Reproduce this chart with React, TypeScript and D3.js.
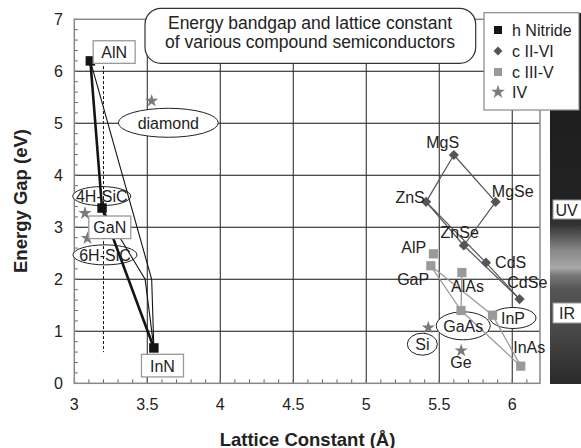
import React from "react";
import * as d3 from "d3";

// ---------- data ----------
const nitrideNames = ["AlN", "GaN", "InN"];
const nitrideLattice = [3.11, 3.19, 3.545];
const nitrideGap = [6.2, 3.37, 0.68];
// bowing polylines (lattice, gap)
const bowAlNInN: [number, number][] = [[3.11, 6.2], [3.53, 2.0], [3.545, 0.68]];
const bowGaNInN: [number, number][] = [[3.19, 3.37], [3.485, 2.0], [3.545, 0.68]];
const dashedLattice = 3.2;
const dashedRange = [6.1, 0.6];

const iiviNames = ["MgS", "ZnS", "MgSe", "ZnSe", "CdS", "CdSe"];
const iiviLattice = [5.6, 5.41, 5.886, 5.668, 5.82, 6.05];
const iiviGap = [4.39, 3.49, 3.49, 2.65, 2.32, 1.62];
const iiviLinks: [string, string][] = [
  ["MgS", "ZnS"], ["MgS", "MgSe"], ["MgSe", "ZnSe"], ["ZnS", "ZnSe"],
  ["ZnSe", "CdSe"], ["ZnS", "CdS"], ["CdS", "CdSe"],
];

const iiivNames = ["AlP", "GaP", "AlAs", "GaAs", "InP", "InAs"];
const iiivLattice = [5.46, 5.442, 5.655, 5.649, 5.865, 6.058];
const iiivGap = [2.49, 2.26, 2.13, 1.4, 1.31, 0.33];
const iiivLinks: [string, string][] = [
  ["GaP", "GaAs"], ["GaP", "InP"], ["AlAs", "GaAs"], ["GaAs", "InAs"], ["InP", "InAs"],
];

const ivNames = ["diamond", "4H-SiC", "6H-SiC", "Si", "Ge"];
const ivLattice = [3.53, 3.073, 3.09, 5.425, 5.65];
const ivGap = [5.43, 3.27, 2.79, 1.07, 0.63];

const xTicks = [3, 3.5, 4, 4.5, 5, 5.5, 6];
const yTicks = [0, 1, 2, 3, 4, 5, 6, 7];
const legendLabels = ["h Nitride", "c II-VI", "c III-V", "IV"];
const titleLines = ["Energy bandgap and lattice constant", "of various compound semiconductors"];

// annotations
const boxLabels: [string, number, number][] = [
  ["AlN", 3.273, 6.37], ["GaN", 3.243, 3.0], ["InN", 3.604, 0.34],
];
const ellipseLabels: [string, number, number, number, number][] = [
  ["4H-SiC", 3.188, 3.6, 29, 9.5],
  ["6H-SiC", 3.21, 2.47, 32, 10],
  ["diamond", 3.644, 5.01, 50, 14.5],
  ["GaAs", 5.664, 1.106, 27, 14],
  ["InP", 6.005, 1.256, 23, 10.5],
  ["Si", 5.384, 0.752, 15, 11],
];
const textLabels: [string, number, number][] = [
  ["MgS", 5.523, 4.525], ["ZnS", 5.3, 3.468], ["MgSe", 6.003, 3.588],
  ["ZnSe", 5.64, 2.794], ["CdS", 5.989, 2.217], ["CdSe", 6.103, 1.833],
  ["AlP", 5.325, 2.506], ["GaP", 5.321, 1.89], ["AlAs", 5.693, 1.762],
  ["Ge", 5.649, 0.294], ["InAs", 6.116, 0.577],
];

// spectrum strip grey stops (energy eV, grey)
const stripStops: [number, string][] = [
  [7.1, "#1a1a1a"], [3.5, "#222"], [3.05, "#333"], [2.75, "#666"],
  [2.55, "#8a8a8a"], [2.35, "#9a9a9a"], [2.22, "#aaa"], [2.08, "#777"],
  [1.8, "#555"], [1.0, "#484848"], [0, "#2a2a2a"],
];

const FONT = "'Liberation Sans', Arial, Helvetica, sans-serif";
const LF = 16;

export default function App() {
  const W = 581, H = 448;
  const x = d3.scaleLinear().domain([3, 6.19]).range([74.3, 540]);
  const y = d3.scaleLinear().domain([0, 7]).range([383.3, 19.3]);
  const [x0, x1] = x.range();
  const [yb, yt] = y.range();

  const line = d3.line<[number, number]>().x((d) => x(d[0])).y((d) => y(d[1]));
  const sq = (s: number) => d3.symbol(d3.symbolSquare, s)() as string;
  const star = (s: number) => d3.symbol(d3.symbolStar, s)() as string;

  const iiviIdx = (n: string) => iiviNames.indexOf(n);
  const iiivIdx = (n: string) => iiivNames.indexOf(n);

  const minorX = d3.range(30, 62).map((v) => v / 10);
  const minorY = d3.range(0, 36).map((v) => v / 5);

  const stripTop = 13, stripBot = 384;
  const stripScale = d3.scaleLinear().domain([stripTop, stripBot]).range([0, 1]);

  const legendY = [30, 51, 72, 92];
  const cII = "#555", cIII = "#9a9a9a", cIV = "#7a7a7a", cN = "#141414";

  return (
    <svg width={W} height={H} style={{ position: "absolute", left: 0, top: 0, background: "#fff" }} fontFamily={FONT}>
      <defs>
        <linearGradient id="strip" x1="0" y1="0" x2="0" y2="1">
          {stripStops.map(([e, c], i) => (
            <stop key={i} offset={Math.max(0, Math.min(1, stripScale(y(e))))} stopColor={c} />
          ))}
        </linearGradient>
      </defs>
      {/* spectrum strip */}
      <rect x={550} y={stripTop} width={31} height={stripBot - stripTop} fill="url(#strip)" />
      <rect x={553} y={200} width={30} height={19} fill="#fff" stroke="#999" />
      <text x={555.5} y={215.5} fontSize={16} fill="#222">UV</text>
      <rect x={553} y={303} width={30} height={20} fill="#fff" stroke="#999" />
      <text x={559} y={319} fontSize={16} fill="#222">IR</text>

      {/* grid */}
      {yTicks.filter((v) => v > 0 && v < 7).map((v) => (
        <line key={"gy" + v} x1={x0} x2={x1} y1={y(v)} y2={y(v)} stroke="#111" strokeWidth={1.1} />
      ))}
      {xTicks.filter((v) => v > 3).map((v) => (
        <line key={"gx" + v} x1={x(v)} x2={x(v)} y1={yt} y2={yb} stroke="#333" strokeWidth={1.1} />
      ))}
      {/* minor ticks */}
      {minorX.map((v) => (
        <line key={"mx" + v} x1={x(v)} x2={x(v)} y1={yb} y2={yb - 4} stroke="#666" strokeWidth={1} />
      ))}
      {minorY.map((v) => (
        <line key={"my" + v} x1={x0} x2={x0 + 3.5} y1={y(v)} y2={y(v)} stroke="#666" strokeWidth={1} />
      ))}
      {/* frame */}
      <rect x={x0} y={yt} width={x1 - x0} height={yb - yt} fill="none" stroke="#888" strokeWidth={1.5} />

      {/* tick labels */}
      {yTicks.map((v) => (
        <text key={"ty" + v} x={63} y={y(v) + 6} textAnchor="end" fontSize={LF} fill="#222">{v}</text>
      ))}
      {xTicks.map((v) => (
        <text key={"tx" + v} x={x(v)} y={409.5} textAnchor="middle" fontSize={LF} fill="#222">{v}</text>
      ))}

      {/* ellipse label backgrounds */}
      {ellipseLabels.map(([t, lx, ly, rx, ry]) => (
        <ellipse key={"e" + t} cx={x(lx)} cy={y(ly)} rx={rx} ry={ry} fill="#fff" stroke="#222" strokeWidth={1} />
      ))}

      {/* dashed line */}
      <line x1={x(dashedLattice)} x2={x(dashedLattice)} y1={y(dashedRange[0])} y2={y(dashedRange[1])}
        stroke="#111" strokeWidth={1} strokeDasharray="3,2" />

      {/* nitride lines */}
      <path d={line(bowAlNInN) as string} fill="none" stroke={cN} strokeWidth={1.1} />
      <path d={line(bowGaNInN) as string} fill="none" stroke={cN} strokeWidth={1.1} />
      <path d={line(nitrideLattice.map((v, i) => [v, nitrideGap[i]] as [number, number])) as string}
        fill="none" stroke={cN} strokeWidth={2.6} />

      {/* II-VI lines */}
      {iiviLinks.map(([a, b]) => (
        <line key={"l6" + a + b} x1={x(iiviLattice[iiviIdx(a)])} y1={y(iiviGap[iiviIdx(a)])}
          x2={x(iiviLattice[iiviIdx(b)])} y2={y(iiviGap[iiviIdx(b)])} stroke={cII} strokeWidth={1.2} />
      ))}
      {/* III-V lines */}
      {iiivLinks.map(([a, b]) => (
        <line key={"l5" + a + b} x1={x(iiivLattice[iiivIdx(a)])} y1={y(iiivGap[iiivIdx(a)])}
          x2={x(iiivLattice[iiivIdx(b)])} y2={y(iiivGap[iiivIdx(b)])} stroke={cIII} strokeWidth={1.3} />
      ))}

      {/* markers */}
      {iiivNames.map((n, i) => (
        <path key={"m5" + n} d={sq(85)} transform={`translate(${x(iiivLattice[i])},${y(iiivGap[i])})`} fill={cIII} />
      ))}
      {iiviNames.map((n, i) => (
        <path key={"m6" + n} d={sq(52)} transform={`translate(${x(iiviLattice[i])},${y(iiviGap[i])}) rotate(45)`} fill={cII} />
      ))}
      {ivNames.map((n, i) => (
        <path key={"m4" + n} d={star(55)} transform={`translate(${x(ivLattice[i])},${y(ivGap[i])})`} fill={cIV} />
      ))}
      {nitrideNames.map((n, i) => (
        <path key={"mn" + n} d={sq(90)} transform={`translate(${x(nitrideLattice[i])},${y(nitrideGap[i])})`} fill={cN} />
      ))}

      {/* box labels */}
      {boxLabels.map(([t, lx, ly]) => (
        <g key={"b" + t}>
          <rect x={x(lx) - 21} y={y(ly) - 11.3} width={42} height={22.6} fill="#fff" stroke="#999" strokeWidth={1.3} />
          <text x={x(lx)} y={y(ly) + 6} textAnchor="middle" fontSize={LF} fill="#222">{t}</text>
        </g>
      ))}
      {/* ellipse label texts */}
      {ellipseLabels.map(([t, lx, ly]) => (
        <text key={"et" + t} x={x(lx)} y={y(ly) + 6} textAnchor="middle" fontSize={LF} fill="#222">{t}</text>
      ))}
      {/* plain labels */}
      {textLabels.map(([t, lx, ly]) => (
        <text key={"t" + t} x={x(lx)} y={y(ly)} textAnchor="middle" fontSize={LF} fill="#222">{t}</text>
      ))}

      {/* title box */}
      <rect x={145} y={8.3} width={330.7} height={55} rx={16} ry={16} fill="#fff" stroke="#333" strokeWidth={1.2} />
      {titleLines.map((t, i) => (
        <text key={"ti" + i} x={310} y={28.5 + i * 19.5} textAnchor="middle" fontSize={17.5} fill="#222">{t}</text>
      ))}

      {/* legend */}
      <rect x={484} y={12.7} width={95} height={97.3} fill="#fff" stroke="#888" strokeWidth={1.2} />
      {legendLabels.map((t, i) => {
        const my = legendY[i];
        const mk =
          i === 0 ? <path d={sq(64)} transform={`translate(498,${my})`} fill={cN} /> :
          i === 1 ? <path d={sq(40)} transform={`translate(498,${my}) rotate(45)`} fill={cII} /> :
          i === 2 ? <path d={sq(64)} transform={`translate(498,${my})`} fill={cIII} /> :
          <path d={star(60)} transform={`translate(498,${my})`} fill={cIV} />;
        return (
          <g key={"lg" + i}>
            {mk}
            <text x={512} y={my + 6} fontSize={LF} fill="#222">{t}</text>
          </g>
        );
      })}

      {/* axis titles */}
      <text x={307.5} y={445.5} textAnchor="middle" fontSize={18.5} fontWeight="bold" fill="#222">Lattice Constant (Å)</text>
      <text transform="translate(26.5,201) rotate(-90)" textAnchor="middle" fontSize={18.5} fontWeight="bold" fill="#222">Energy Gap (eV)</text>
    </svg>
  );
}
